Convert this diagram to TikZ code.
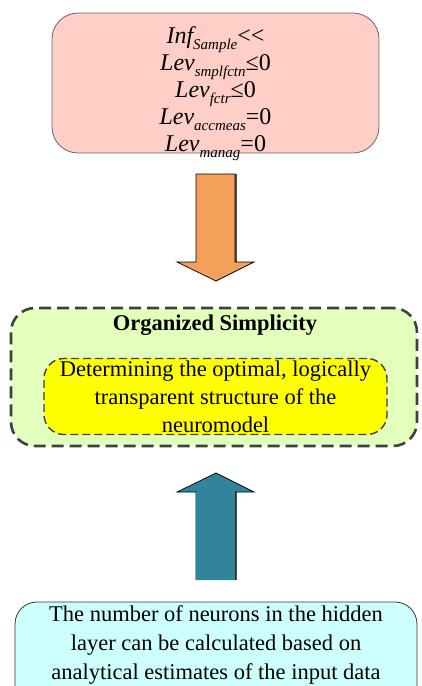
\documentclass[tikz,border=0pt]{standalone}
\usepackage{fontspec}
\setmainfont{Liberation Serif}
\newcommand{\sbs}[1]{\raisebox{-0.25em}{\fontsize{15}{15}\selectfont\itshape #1}}
\begin{document}
\begin{tikzpicture}[x=1pt,y=-1pt,
  txt/.style={font=\fontsize{22.5}{28}\selectfont, align=center, inner sep=0pt},
  topbox/.style={draw=black!60, line width=0.8pt, fill=pinkfill, rounded corners=26pt, minimum width=327pt, minimum height=140pt},
  outerbox/.style={draw=black!75, line width=2.6pt, dash pattern=on 12pt off 6pt, fill=greenfill, rounded corners=24pt, minimum width=406pt, minimum height=138pt},
  innerbox/.style={draw=black!75, line width=1.4pt, dash pattern=on 8pt off 4pt, fill=yellowfill, rounded corners=20pt, minimum width=343pt, minimum height=76pt},
  botbox/.style={draw=black!80, line width=0.8pt, fill=cyanfill, rounded corners=22pt, minimum width=402pt, minimum height=130pt},
  blockarrow/.style={draw=black, line width=0.7pt, line join=miter}
]
\definecolor{pinkfill}{RGB}{255,206,198}
\definecolor{greenfill}{RGB}{226,255,188}
\definecolor{yellowfill}{RGB}{255,255,0}
\definecolor{cyanfill}{RGB}{206,255,255}
\definecolor{orangearrow}{RGB}{245,160,90}
\definecolor{tealarrow}{RGB}{49,132,155}
\useasboundingbox (0,0) rectangle (421,686);

% top box
\node[topbox] (top) at (215.5,83) {};
\node[txt, font=\fontsize{24}{27}\selectfont\itshape] (toptext) at (215.5,94) {%
Inf\sbs{Sample}\upshape<{}<\\
Lev\sbs{smplfctn}\upshape≤0\\
Lev\sbs{fctr}\upshape≤0\\
Lev\sbs{accmeas}\upshape=0\\
Lev\sbs{manag}\upshape=0};

% orange down arrow
\fill[black!70] (235,174) -- (237,174) -- (237,262) -- (235,262) -- cycle;
\filldraw[blockarrow, fill=orangearrow] (196,174) -- (235,174) -- (235,262) -- (254,262) -- (216,281) -- (177,262) -- (196,262) -- cycle;

% middle boxes
\node[outerbox] (outer) at (214,377) {};
\node[txt, font=\fontsize{22.5}{28}\selectfont\bfseries] (title) at (215,325) {Organized Simplicity};
\node[innerbox] (inner) at (215.5,396.5) {};
\node[txt] (innertext) at (215.5,397) {Determining the optimal, logically\\transparent structure of the\\neuromodel};

% teal up arrow
\fill[black!70] (235,492) -- (237,492) -- (237,580) -- (235,580) -- cycle;
\filldraw[blockarrow, fill=tealarrow] (196,580) -- (196,492) -- (177,492) -- (216,473) -- (254,492) -- (235,492) -- (235,580);
\fill[tealarrow] (196.4,492) rectangle (234.6,580);

% bottom box
\node[botbox] (bot) at (216,667) {};
\node[txt, font=\fontsize{22.5}{29}\selectfont] (bottext) at (216,645) {The number of neurons in the hidden\\layer can be calculated based on\\analytical estimates of the input data};
\end{tikzpicture}
\end{document}
